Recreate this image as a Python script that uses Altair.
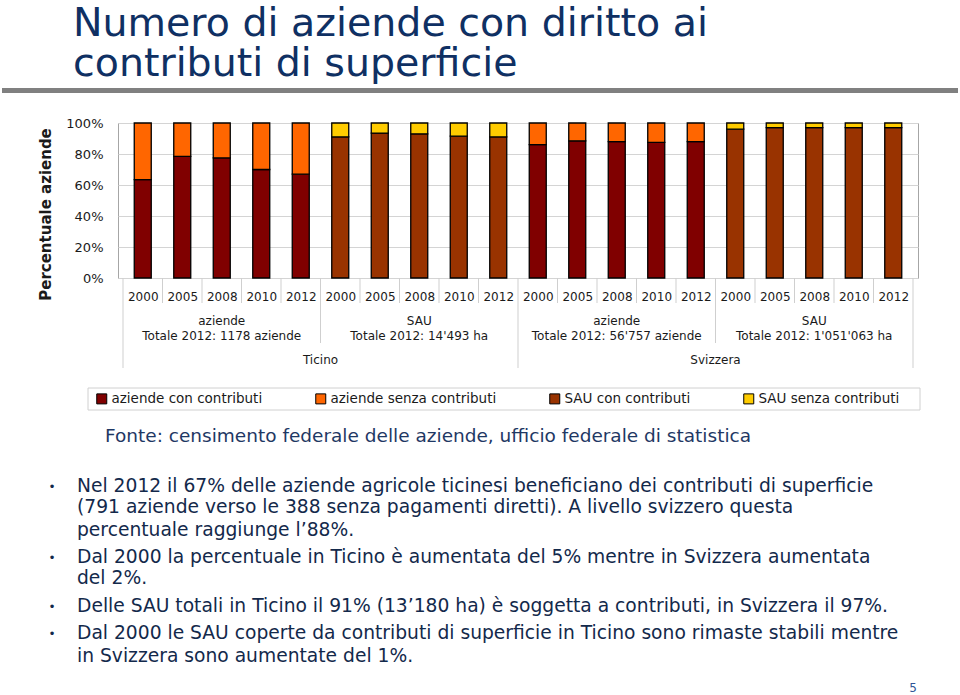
import altair as alt
import pandas as pd

# ---------------- data ----------------
years = ["2000", "2005", "2008", "2010", "2012"]
groups = ["Ticino aziende", "Ticino SAU", "Svizzera aziende", "Svizzera SAU"]
group_type = ["aziende", "SAU", "aziende", "SAU"]
group_line1 = ["aziende", "SAU", "aziende", "SAU"]
group_line2 = ["Totale 2012: 1178 aziende", "Totale 2012: 14'493 ha",
               "Totale 2012: 56'757 aziende", "Totale 2012: 1'051'063 ha"]
countries = ["Ticino", "Svizzera"]

# share "con contributi" (%) per group, per year
ticino_aziende_con = [63.5, 78.5, 77.5, 70, 67]
ticino_sau_con = [91, 93.5, 93, 91.5, 91]
svizzera_aziende_con = [86, 88.5, 88, 87.5, 88]
svizzera_sau_con = [96, 97, 97, 97, 97]
con_values = [ticino_aziende_con, ticino_sau_con, svizzera_aziende_con, svizzera_sau_con]

categories = ["aziende con contributi", "aziende senza contributi",
              "SAU con contributi", "SAU senza contributi"]
colors = ["#800000", "#FF6600", "#993300", "#FFCC00"]

y_ticks = [0, 20, 40, 60, 80, 100]

# ---------------- tables built from the arrays ----------------
rows = []
for g, (gt, vals) in enumerate(zip(group_type, con_values)):
    for k, (yr, v) in enumerate(zip(years, vals)):
        pos = g * len(years) + k + 0.5
        rows.append({"pos": pos, "year": yr, "lo": 0, "hi": v, "cat": f"{gt} con contributi"})
        rows.append({"pos": pos, "year": yr, "lo": v, "hi": 100, "cat": f"{gt} senza contributi"})
bars_df = pd.DataFrame(rows)

n_bars = len(groups) * len(years)
year_bounds = pd.DataFrame({"b": [i for i in range(1, n_bars) if i % len(years) != 0]})
group_bounds = pd.DataFrame({"b": [len(years) * 1, len(years) * 3]})
country_bounds = pd.DataFrame({"b": [0, n_bars // 2, n_bars]})
group_labels = pd.DataFrame({
    "c": [len(years) * g + len(years) / 2 for g in range(len(groups))],
    "l1": group_line1, "l2": group_line2})
country_labels = pd.DataFrame({"c": [n_bars / 4, 3 * n_bars / 4], "name": countries})

W, H = 800, 155
FONT = "DejaVu Sans"
NAVY = "#0F3063"
TEXT = "#13294B"
AX = "#1a1a1a"

xscale = alt.Scale(domain=[0, n_bars], nice=False, zero=False)

bars = alt.Chart(bars_df).mark_bar(size=17, stroke="black", strokeWidth=1.3).encode(
    x=alt.X("pos:Q", scale=xscale,
            axis=alt.Axis(values=[i + 0.5 for i in range(n_bars)],
                          labelExpr=f"{years}[floor(datum.value) % {len(years)}]",
                          ticks=False, domain=False, grid=False, title=None,
                          labelFont=FONT, labelFontSize=12, labelColor=AX,
                          labelBaseline="middle", labelPadding=18)),
    y=alt.Y("lo:Q", scale=alt.Scale(domain=[0, 100]),
            axis=alt.Axis(values=y_ticks, labelExpr="datum.value + '%'",
                          ticks=False, domain=False, gridColor="#d4d4d4",
                          labelFont=FONT, labelFontSize=13, labelColor=AX,
                          labelPadding=15,
                          title="Percentuale aziende", titleFont=FONT,
                          titleFontSize=15, titleFontWeight="bold",
                          titleColor=AX, titleAngle=270, titleX=-73, titleY=91,
                          titleAlign="center", titleBaseline="middle")),
    y2="hi:Q",
    color=alt.Color("cat:N", scale=alt.Scale(domain=categories, range=colors),
                    legend=alt.Legend(title=None, orient="none", legendX=-23, legendY=269,
                                      direction="horizontal", columns=4, columnPadding=50,
                                      symbolType="square", symbolSize=100,
                                      symbolStrokeColor="black", symbolStrokeWidth=1,
                                      symbolOpacity=1, labelFont=FONT, labelFontSize=13.5,
                                      labelLimit=400,
                                      labelColor=AX, labelOffset=3, padding=0)),
)

sep_color = "#cfcfcf"
year_sep = alt.Chart(year_bounds).mark_rule(color=sep_color).encode(
    x=alt.X("b:Q", scale=xscale), y=alt.value(H), y2=alt.value(H + 25))
group_sep = alt.Chart(group_bounds).mark_rule(color=sep_color).encode(
    x=alt.X("b:Q", scale=xscale), y=alt.value(H), y2=alt.value(H + 65))
country_sep = alt.Chart(country_bounds).mark_rule(color=sep_color).encode(
    x=alt.X("b:Q", scale=xscale), y=alt.value(H), y2=alt.value(H + 90))

g1 = alt.Chart(group_labels).mark_text(font=FONT, fontSize=12, color=AX).encode(
    x=alt.X("c:Q", scale=xscale), y=alt.value(H + 43), text="l1:N")
g2 = alt.Chart(group_labels).mark_text(font=FONT, fontSize=12, color=AX).encode(
    x=alt.X("c:Q", scale=xscale), y=alt.value(H + 58), text="l2:N")
c1 = alt.Chart(country_labels).mark_text(font=FONT, fontSize=12, color=AX).encode(
    x=alt.X("c:Q", scale=xscale), y=alt.value(H + 82), text="name:N")

dummy = alt.Data(values=[{"a": 1}])


def txt(s, x, y, size, color, align="left", baseline="alphabetic", weight="normal", **kw):
    return alt.Chart(dummy).mark_text(text=s, font=FONT, fontSize=size, color=color,
                                      align=align, baseline=baseline,
                                      fontWeight=weight, **kw).encode(
        x=alt.value(x), y=alt.value(y))


def box(x1, x2, y1, y2, fill="transparent", stroke=None):
    kw = {"fill": fill}
    if stroke:
        kw["stroke"] = stroke
        kw["strokeWidth"] = 1
    return alt.Chart(dummy).mark_rect(**kw).encode(
        x=alt.value(x1), x2=alt.value(x2), y=alt.value(y1), y2=alt.value(y2))


OX, OY = 118, 123  # plot origin on the page

title = txt("Numero di aziende con diritto ai\ncontributi di superficie",
            73 - OX, 36 - OY, 39.5, NAVY, lineBreak="\n", lineHeight=40)
title_bar = box(2 - OX, 958 - OX, 88 - OY, 93 - OY, fill="#808080")
legend_box = box(88 - OX, 920 - OX, 388 - OY, 410 - OY, stroke="#d0d0d0")
fonte = txt("Fonte: censimento federale delle aziende, ufficio federale di statistica",
            105 - OX, 442 - OY, 18.5, "#1F3864")

bullet_lines = [
    (True, "Nel 2012 il 67% delle aziende agricole ticinesi beneficiano dei contributi di superficie", 492),
    (False, "(791 aziende verso le 388 senza pagamenti diretti). A livello svizzero questa", 513),
    (False, "percentuale raggiunge l\u201988%.", 536),
    (True, "Dal 2000 la percentuale in Ticino \u00e8 aumentata del 5% mentre in Svizzera  aumentata", 563),
    (False, "del 2%.", 584),
    (True, "Delle SAU totali in Ticino il 91% (13\u2019180 ha) \u00e8 soggetta a contributi, in Svizzera il 97%.", 612),
    (True, "Dal 2000 le SAU coperte da contributi di superficie in Ticino sono rimaste stabili mentre", 639),
    (False, "in Svizzera sono aumentate del 1%.", 662),
]
text_layers = []
for is_b, s, yb in bullet_lines:
    if is_b:
        text_layers.append(txt("\u2022", 52 - OX, yb - 1 - OY, 12, TEXT, align="center"))
    text_layers.append(txt(s, 77 - OX, yb - OY, 18.7, TEXT))

page_no = txt("5", 913 - OX, 692 - OY, 12, "#2F5597", align="center")

chart = alt.layer(
    legend_box, bars, year_sep, group_sep, country_sep, g1, g2, c1,
    title, title_bar, fonte, page_no, *text_layers
).properties(
    width=W, height=H,
    autosize=alt.AutoSizeParams(type="none"),
    padding={"left": OX, "top": OY, "right": 960 - OX - W, "bottom": 695 - OY - H},
    background="white",
).configure_view(stroke="#a6a6a6", strokeWidth=1)

chart.save("out.html", embed_options={"renderer": "svg", "actions": False})
